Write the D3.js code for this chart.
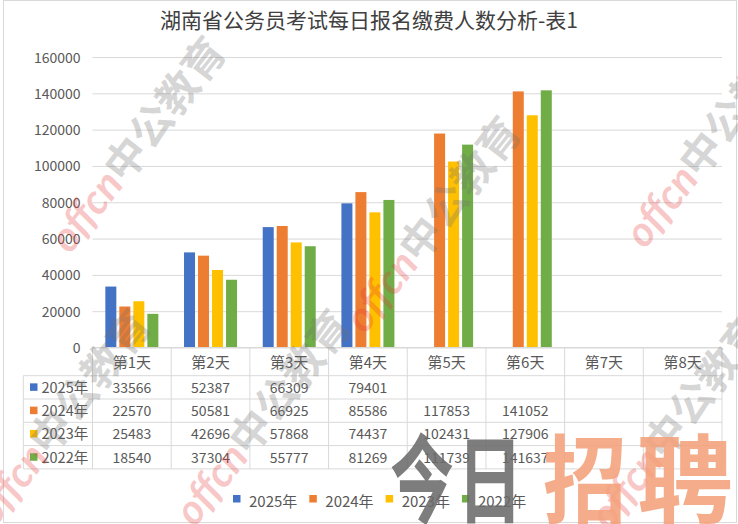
<!DOCTYPE html>
<html>
<head>
<meta charset="utf-8">
<script src="https://cdn.jsdelivr.net/npm/d3@7"></script>
<style>
  html, body { margin: 0; padding: 0; background: #fff; }
  svg { display: block; }
  text { font-family: "Noto Sans CJK SC", "Noto Sans", sans-serif; }
</style>
</head>
<body>
<svg id="chart" width="738" height="524"></svg>
<script>
// ---------- data ----------
const title = "湖南省公务员考试每日报名缴费人数分析-表1";
const categories = ["第1天", "第2天", "第3天", "第4天", "第5天", "第6天", "第7天", "第8天"];
const seriesNames = ["2025年", "2024年", "2023年", "2022年"];
const values2025 = [33566, 52387, 66309, 79401, null, null, null, null];
const values2024 = [22570, 50581, 66925, 85586, 117853, 141052, null, null];
const values2023 = [25483, 42696, 57868, 74437, 102431, 127906, null, null];
const values2022 = [18540, 37304, 55777, 81269, 111739, 141637, null, null];
const seriesColors = ["#4472C4", "#ED7D31", "#FFC000", "#70AD47"];
const yTicks = [0, 20000, 40000, 60000, 80000, 100000, 120000, 140000, 160000];
const watermarkText = ["offcn", "中公教育"];
const bannerChars = ["今", "日", "招", "聘"];

const seriesValues = [values2025, values2024, values2023, values2022];
const series = seriesNames.map((n, i) => ({ name: n, color: seriesColors[i], values: seriesValues[i] }));

// ---------- layout ----------
const plotL = 92.5, plotR = 722, plotT = 57, plotB = 347.5;
const headerH = 28.2, rowH = 23.3, tableL = 23.3;
const textColor = "#595959", lineColor = "#D9D9D9";

const svg = d3.select("#chart");

// outer border
svg.append("rect").attr("x", 3.5).attr("y", 0.5).attr("width", 733).attr("height", 522)
  .attr("fill", "#fff").attr("stroke", lineColor);

// scales
const x0 = d3.scaleBand().domain(categories).range([plotL, plotR]).paddingInner(0).paddingOuter(0);
const groupW = 53;
const x1 = d3.scaleBand().domain(seriesNames).range([0, groupW]).paddingInner(3 / 14).paddingOuter(0);
const y = d3.scaleLinear().domain([0, 160000]).range([plotB, plotT]);

// ---------- watermarks (behind content like in reference overlay, drawn first) ----------
const wm = svg.append("g").attr("pointer-events", "none");

// title
svg.append("text").attr("x", 369).attr("y", 28).attr("text-anchor", "middle")
  .attr("font-size", 21).attr("fill", "#404040").text(title);

// y axis with gridlines
const yAxis = d3.axisLeft(y).tickValues(yTicks).tickSize(-(plotR - plotL)).tickPadding(12)
  .tickFormat(d => String(d));
const gy = svg.append("g").attr("transform", `translate(${plotL},0)`).call(yAxis);
gy.select(".domain").remove();
gy.selectAll(".tick line").attr("stroke", lineColor).attr("stroke-width", 1);
gy.selectAll(".tick text").attr("font-size", 14).attr("fill", textColor)
  .attr("font-family", "'Noto Sans CJK SC', sans-serif").attr("dy", "0.36em");

// bars
const groups = svg.append("g").selectAll("g").data(categories).join("g")
  .attr("transform", c => `translate(${x0(c) + (x0.bandwidth() - groupW) / 2},0)`);
groups.selectAll("rect")
  .data((c, ci) => series.map(s => ({ s, v: s.values[ci] })).filter(d => d.v != null))
  .join("rect")
  .attr("x", d => x1(d.s.name))
  .attr("width", x1.bandwidth())
  .attr("y", d => y(d.v))
  .attr("height", d => y(0) - y(d.v))
  .attr("fill", d => d.s.color);

// ---------- data table ----------
const tbl = svg.append("g");
const tableBottom = plotB + headerH + rowH * series.length;
tbl.append("line").attr("x1", plotL).attr("x2", plotR).attr("y1", plotB).attr("y2", plotB)
  .attr("stroke", lineColor);
for (let i = 0; i <= series.length; i++) {
  const yy = plotB + headerH + rowH * i;
  tbl.append("line").attr("x1", tableL).attr("x2", plotR).attr("y1", yy).attr("y2", yy)
    .attr("stroke", lineColor);
}
tbl.append("line").attr("x1", tableL).attr("x2", tableL).attr("y1", plotB + headerH).attr("y2", tableBottom)
  .attr("stroke", lineColor);
categories.forEach(c => {
  tbl.append("line").attr("x1", x0(c)).attr("x2", x0(c)).attr("y1", plotB).attr("y2", tableBottom)
    .attr("stroke", lineColor);
});
tbl.append("line").attr("x1", plotR).attr("x2", plotR).attr("y1", plotB).attr("y2", tableBottom)
  .attr("stroke", lineColor);

tbl.selectAll("text.hdr").data(categories).join("text").attr("class", "hdr")
  .attr("x", c => x0(c) + x0.bandwidth() / 2).attr("y", plotB + 20)
  .attr("text-anchor", "middle").attr("font-size", 15).attr("fill", textColor).text(c => c);

series.forEach((s, i) => {
  const cy = plotB + headerH + rowH * i + rowH / 2;
  tbl.append("rect").attr("x", 30).attr("y", cy - 4).attr("width", 7.5).attr("height", 7.5).attr("fill", s.color);
  tbl.append("text").attr("x", 41.5).attr("y", cy + 5.5).attr("font-size", 14.5).attr("fill", textColor).text(s.name);
  categories.forEach((c, ci) => {
    const v = s.values[ci];
    if (v == null) return;
    tbl.append("text").attr("x", x0(c) + x0.bandwidth() / 2).attr("y", cy + 5.5)
      .attr("text-anchor", "middle").attr("font-size", 14).attr("fill", textColor).text(String(v));
  });
});

// ---------- legend ----------
const legend = svg.append("g");
let lx = 233;
series.forEach(s => {
  legend.append("rect").attr("x", lx).attr("y", 495).attr("width", 7.5).attr("height", 7.5).attr("fill", s.color);
  const t = legend.append("text").attr("x", lx + 16).attr("y", 507).attr("font-size", 15)
    .attr("fill", textColor).text(s.name);
  lx += 16 + t.node().getComputedTextLength() + 12;
});

// ---------- watermark overlay ----------
const wmTop = svg.append("g").attr("pointer-events", "none");
const wmSpots = [[70, 255], [365, 335], [645, 250], [195, 528], [-5, 528], [610, 532]];
wmSpots.forEach(([wx, wy]) => {
  const g = wmTop.append("g").attr("transform", `translate(${wx},${wy}) rotate(-52)`);
  const t = g.append("text").attr("font-size", 42).attr("font-weight", "bold");
  t.append("tspan").attr("fill", "#E83838").attr("fill-opacity", 0.28)
    .attr("font-style", "italic").attr("font-family", "Lato, sans-serif").text(watermarkText[0]);
  t.append("tspan").attr("fill", "#707070").attr("fill-opacity", 0.28)
    .attr("font-family", "'Noto Sans CJK SC', sans-serif").text(watermarkText[1]);
});
const bannerX = [390, 457, 543, 637];
const bannerW = [64, 66, 84, 96];
const bannerFill = ["#6B6B6B", "#6B6B6B", "#F4A07A", "#F4A07A"];
bannerChars.forEach((ch, i) => {
  svg.append("text").attr("x", bannerX[i]).attr("y", 515).attr("font-size", 96)
    .attr("font-weight", "bold").attr("font-family", "'Noto Sans CJK SC', sans-serif")
    .attr("textLength", bannerW[i]).attr("lengthAdjust", "spacingAndGlyphs")
    .attr("fill", bannerFill[i]).attr("fill-opacity", 0.88)
    .attr("pointer-events", "none").text(ch);
});
</script>
</body>
</html>
